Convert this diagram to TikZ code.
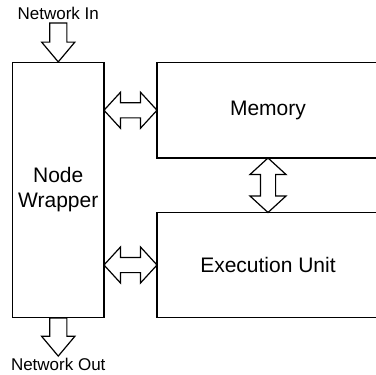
\documentclass[tikz,border=0pt]{standalone}
\usepackage{fontspec}
\setmainfont{Liberation Sans}
\usetikzlibrary{shapes.arrows,calc,positioning}
\tikzset{
	block/.style    = {draw, fill=white, rectangle, line width=1.2pt, inner sep=0pt, align=center, font=\fontsize{21}{25}\selectfont},
	fatarrow/.style = {draw, fill=white, double arrow, line width=1.2pt, inner xsep=0pt, inner ysep=7pt, outer sep=0pt, double arrow head extend=10.5pt, double arrow tip angle=95},
	netarrow/.style = {draw, fill=white, single arrow, line width=1.2pt, inner xsep=0pt, inner ysep=8pt, outer sep=0pt, single arrow head extend=8pt, single arrow tip angle=80, rotate=-90},
	netlabel/.style = {inner sep=0pt, font=\fontsize{17}{20}\selectfont},
}

\begin{document}
\begin{tikzpicture}[x=1pt, y=-1pt]
		\useasboundingbox (0,0) rectangle (376,375);
		% Draw the main blocks
		\node[block, minimum width=91.5pt, minimum height=255pt] (wrapper) at (58.25,190) {Node\\Wrapper};
		\node[block, minimum width=222pt, minimum height=95.5pt] (memory) at (268,110.25) {Memory};
		\node[block, minimum width=222pt, minimum height=105pt] (exec) at (268,265) {Execution Unit};
		
		% Draw the network ports
		\node[netarrow, minimum height=39pt, anchor=tip] (inarrow) at (wrapper.north) {};
		\node[netarrow, minimum height=38pt, anchor=tail] (outarrow) at (wrapper.south) {};
		\node[netlabel, anchor=base, yshift=3pt] (netin) at (inarrow.tail) {Network In};
		\node[netlabel, anchor=north, yshift=-2pt] (netout) at (outarrow.tip) {Network Out};
		
		% Connect everything together
		\node[fatarrow, minimum height=53pt] (wrapmem) at ($(wrapper.east |- memory.west)!0.5!(memory.west)$) {};
		\node[fatarrow, minimum height=53pt] (wrapexec) at ($(wrapper.east |- exec.west)!0.5!(exec.west)$) {};
		\node[fatarrow, minimum height=54.5pt, rotate=90] (memexec) at ($(memory.south)!0.5!(exec.north)$) {};
	\end{tikzpicture}
\end{document}
